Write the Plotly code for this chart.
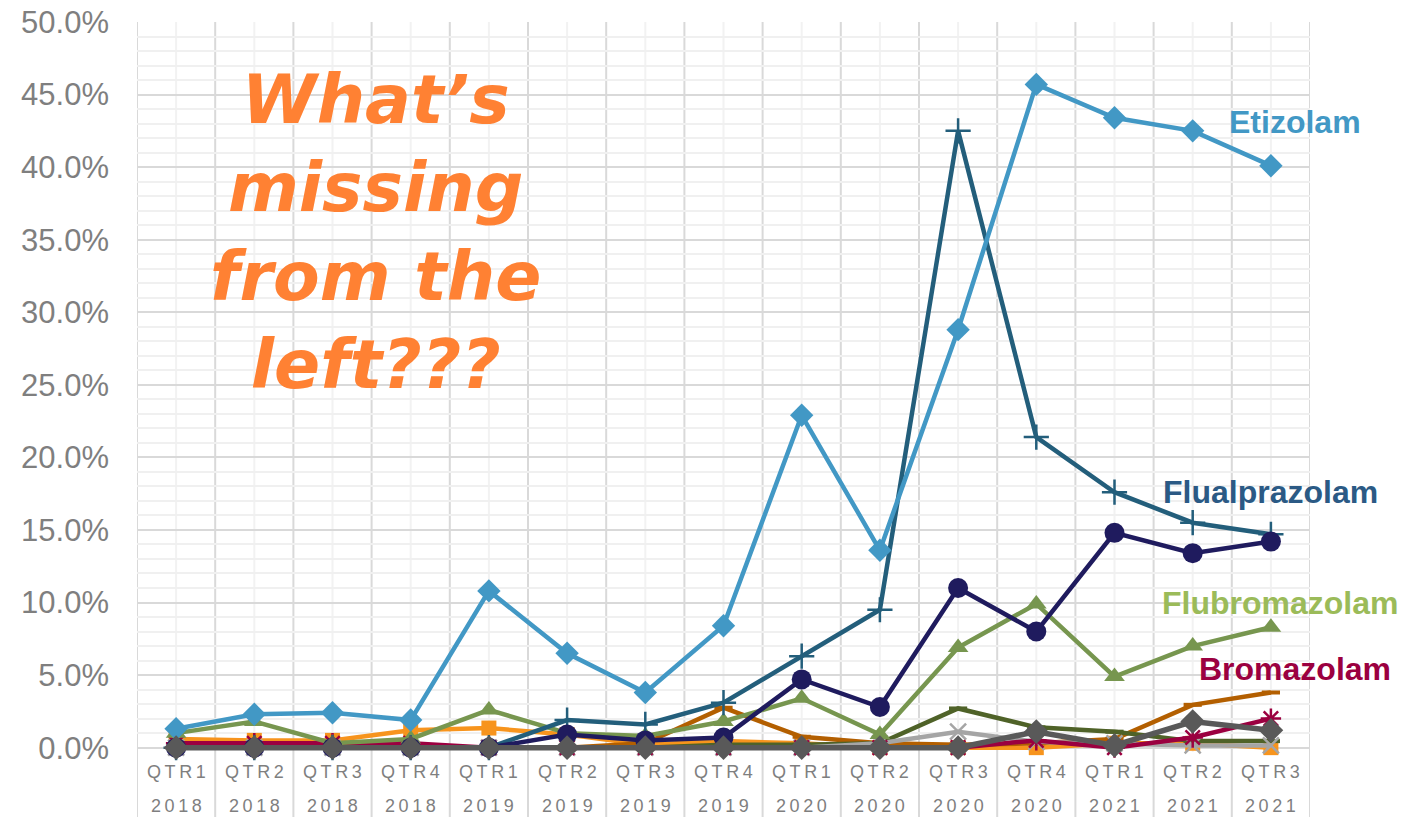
import plotly.graph_objects as go

quarters = ["QTR1", "QTR2", "QTR3", "QTR4", "QTR1", "QTR2", "QTR3", "QTR4",
            "QTR1", "QTR2", "QTR3", "QTR4", "QTR1", "QTR2", "QTR3"]
years = ["2018", "2018", "2018", "2018", "2019", "2019", "2019", "2019",
         "2020", "2020", "2020", "2020", "2021", "2021", "2021"]

# Share of positive samples, in percent
etizolam = [1.3, 2.3, 2.4, 1.9, 10.8, 6.5, 3.8, 8.4, 22.9, 13.6, 28.8, 45.7, 43.4, 42.5, 40.1]
flualprazolam = [0, 0, 0, 0, 0, 1.9, 1.6, 3.1, 6.3, 9.5, 42.5, 21.4, 17.6, 15.5, 14.7]
clonazolam = [0, 0, 0, 0, 0, 0.9, 0.5, 0.7, 4.7, 2.8, 11.0, 8.0, 14.8, 13.4, 14.2]
flubromazolam = [1.0, 1.8, 0.3, 0.6, 2.6, 1.0, 0.8, 1.8, 3.4, 0.9, 6.9, 9.9, 4.9, 7.0, 8.3]
bromazolam = [0.3, 0.3, 0.3, 0.3, 0, 0, 0, 0, 0, 0, 0, 0.5, 0, 0.7, 2.0]
orange_series = [0.6, 0.5, 0.5, 1.2, 1.35, 0.9, 0.2, 0.45, 0.3, 0, 0, 0, 0.3, 0.3, 0]
brown_series = [0, 0, 0, 0, 0, 0, 0.3, 2.75, 0.75, 0.3, 0.2, 0.3, 0.6, 2.95, 3.8]
olive_series = [0, 0, 0, 0, 0, 0, 0, 0.2, 0.2, 0.3, 2.7, 1.4, 1.1, 0.45, 0.45]
silver_series = [0, 0, 0, 0, 0, 0, 0, 0, 0, 0.3, 1.1, 0.4, 0.3, 0.15, 0.15]
slate_series = [0, 0, 0, 0, 0, 0, 0, 0, 0, 0, 0, 1.1, 0.15, 1.8, 1.2]

x = list(range(len(quarters)))

fig = go.Figure()


def add_series(values, color, symbol, size, width=4.5, mline=0):
    fig.add_trace(go.Scatter(
        x=x, y=values, mode="lines+markers", cliponaxis=False,
        line=dict(color=color, width=width),
        marker=dict(symbol=symbol, size=size, color=color,
                    line=dict(color=color, width=mline)),
        showlegend=False, hoverinfo="skip"))


add_series(orange_series, "#F7941D", "square", 15)
add_series(brown_series, "#B35F00", "line-ew", 13, mline=4)
add_series(olive_series, "#4F6228", "line-ew", 13, mline=4)
add_series(silver_series, "#A5A5A5", "x-thin", 16, mline=2.5)
add_series(bromazolam, "#9B0040", "asterisk", 17, mline=2.5)
add_series(flubromazolam, "#77964F", "triangle-up", 18)
add_series(flualprazolam, "#235E7B", "cross-thin", 18, mline=2.5)
add_series(etizolam, "#4298C5", "diamond", 18)
add_series(clonazolam, "#1F1B5E", "circle", 20)
add_series(slate_series, "#595959", "diamond", 19, width=5.5)

# Vertical category dividers run down through the label rows
shapes = []
for k in range(len(quarters) + 1):
    shapes.append(dict(type="line", xref="x", yref="paper", x0=k - 0.5, x1=k - 0.5,
                       y0=-0.12, y1=1, line=dict(color="#D9D9D9", width=2), layer="below"))
for k in range(len(quarters)):
    shapes.append(dict(type="line", xref="x", yref="paper", x0=k, x1=k,
                       y0=0, y1=1, line=dict(color="#F2F2F2", width=2), layer="below"))

axis_font = dict(family="Liberation Sans, Arial", size=18, color="#7F7F7F")
spacer = "\u2009"
annotations = []
for k, (q, yr) in enumerate(zip(quarters, years)):
    annotations.append(dict(x=k, y=0, xref="x", yref="paper", yshift=-20, yanchor="middle",
                            text=spacer.join(q), showarrow=False, font=axis_font))
    annotations.append(dict(x=k, y=0, xref="x", yref="paper", yshift=-54, yanchor="middle",
                            text=spacer.join(yr), showarrow=False, font=axis_font))

labels = [
    ("Etizolam", 14.31, 43.1, "#4298C5"),
    ("Flualprazolam", 13.99, 17.6, "#2B5A85"),
    ("Clonazolam", 14.51, 12.3, "#1F1B5E"),
    ("Flubromazolam", 14.12, 10.0, "#9BBB59"),
    ("Bromazolam", 14.31, 5.4, "#9B0040"),
]
for text, lx, ly, col in labels:
    annotations.append(dict(x=lx, y=ly, xref="x", yref="y", text="<b>%s</b>" % text,
                            showarrow=False, yanchor="middle",
                            font=dict(family="Liberation Sans, Arial", size=32, color=col)))

annotations.append(dict(
    x=2.55, y=35.5, xref="x", yref="y", showarrow=False, yanchor="middle", align="center",
    text="What’s<br>missing<br>from the<br>left???",
    font=dict(family="DejaVu Sans", size=68, color="#FF8133", style="italic", weight=700)))

fig.update_layout(
    width=1403, height=817,
    margin=dict(l=137, r=93, t=22, b=65),
    paper_bgcolor="white", plot_bgcolor="white",
    shapes=shapes, annotations=annotations,
    xaxis=dict(range=[-0.5, len(quarters) - 0.5], showgrid=False, zeroline=False,
               showticklabels=False, fixedrange=True, automargin=False),
    yaxis=dict(range=[-0.3, 50], tickvals=[5 * i for i in range(11)],
               ticktext=["%.1f%%" % (5 * i) for i in range(11)],
               showgrid=True, gridcolor="#D9D9D9", gridwidth=2, zeroline=False,
               minor=dict(tickvals=[i for i in range(51) if i % 5], showgrid=True,
                          gridcolor="#F0F0F0", gridwidth=2),
               tickfont=dict(family="Liberation Sans, Arial", size=31, color="#7F7F7F"),
               ticklabelstandoff=27, fixedrange=True, automargin=False),
)

fig.write_html("out.html")
